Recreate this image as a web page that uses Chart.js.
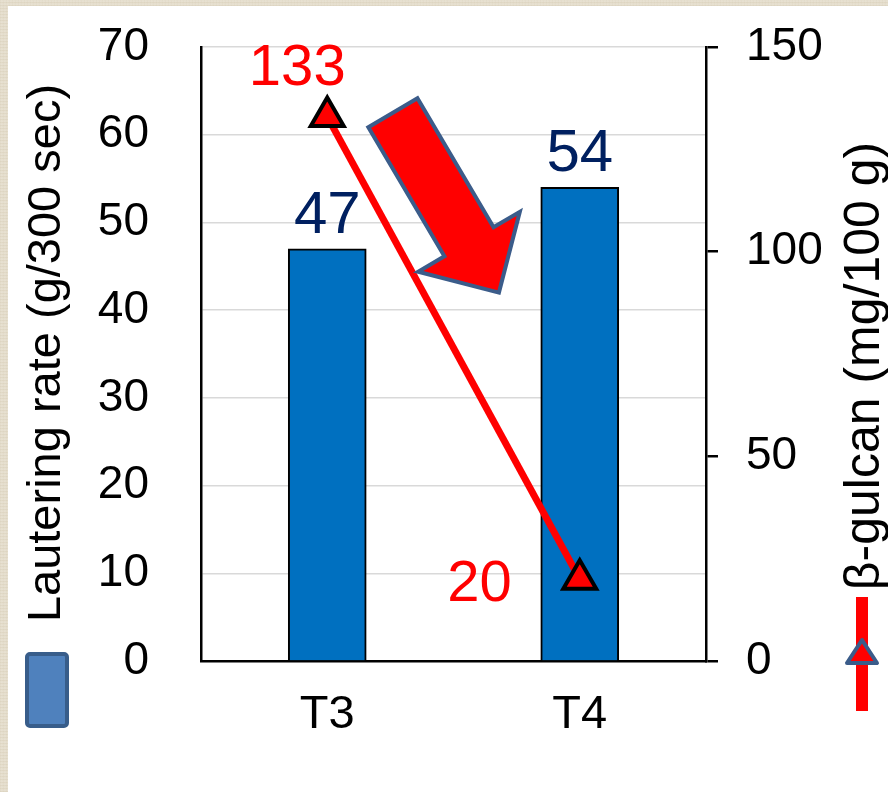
<!DOCTYPE html>
<html>
<head>
<meta charset="utf-8">
<title>Lautering rate and β-glucan</title>
<script src="https://cdn.jsdelivr.net/npm/chart.js@4/dist/chart.umd.min.js"></script>
<style>
  html, body { margin: 0; padding: 0; }
  body {
    width: 888px; height: 792px; position: relative; overflow: hidden;
    background-color: #e7e0cf;
    background-image:
      repeating-linear-gradient(90deg, rgba(170,150,110,0.18) 0px, rgba(255,255,255,0.15) 1px, rgba(190,175,140,0.12) 2px, rgba(255,255,255,0.1) 3px),
      repeating-linear-gradient(0deg, rgba(160,140,100,0.15) 0px, rgba(255,255,255,0.2) 2px, rgba(180,165,130,0.1) 3px);
  }
  #panel { position: absolute; left: 8px; top: 6px; right: 0; bottom: 0; background: #ffffff; }
  #chart { position: absolute; left: 0; top: 0; }
</style>
</head>
<body>
<div id="panel"></div>
<canvas id="chart" width="888" height="792"></canvas>
<script>
// Categories and measured values
const categories = ['T3', 'T4'];
const lauteringRate = [47, 54];     // g/300 sec, bars on the left axis
const betaGlucan = [133, 20];       // mg/100 g, line on the right axis

// Axis ranges
const leftAxisRange = [0, 70, 10];
const rightAxisRange = [0, 150, 50];

const leftTitle = 'Lautering rate (g/300 sec)';
const rightTitle = 'β-gulcan (mg/100 g)';

const FONT = "'Liberation Sans', Arial, sans-serif";
const BAR_COLOR = '#0070C0';
const BAR_LABEL_COLOR = '#002060';
const LINE_COLOR = '#FF0000';
const SLATE = '#3B5C8A';

// Value labels above the bars and beside the line markers
const valueLabels = {
  id: 'valueLabels',
  afterDatasetsDraw(chart) {
    const ctx = chart.ctx;
    ctx.save();
    ctx.font = '60px ' + FONT;
    ctx.fillStyle = BAR_LABEL_COLOR;
    ctx.textAlign = 'center';
    ctx.textBaseline = 'alphabetic';
    chart.getDatasetMeta(1).data.forEach((bar, i) => {
      ctx.fillText(String(lauteringRate[i]), bar.x, bar.y - 16);
    });
    ctx.font = '58px ' + FONT;
    ctx.fillStyle = LINE_COLOR;
    const pts = chart.getDatasetMeta(0).data;
    // first point: label above-left, second point: label to the left
    ctx.textAlign = 'center';
    ctx.fillText(String(betaGlucan[0]), pts[0].x - 30, pts[0].y - 32);
    ctx.textAlign = 'right';
    ctx.fillText(String(betaGlucan[1]), pts[1].x - 68, pts[1].y + 22);
    ctx.restore();
  }
};

// Block arrow pointing along the downward trend, placed in data space
const trendArrow = {
  id: 'trendArrow',
  afterDatasetsDraw(chart) {
    const xs = chart.scales.x, ys = chart.scales.y;
    const tail = { x: xs.getPixelForValue(0.26), y: ys.getPixelForValue(62.5) };
    const tip = { x: xs.getPixelForValue(0.68), y: ys.getPixelForValue(42) };
    const dx = tip.x - tail.x, dy = tip.y - tail.y;
    const len = Math.hypot(dx, dy);
    const ux = dx / len, uy = dy / len;
    const px = -uy, py = ux;
    const shaftHalf = 28.5, headHalf = 59, headLen = 59;
    const bx = tip.x - ux * headLen, by = tip.y - uy * headLen;
    const pts = [
      [tail.x + px * shaftHalf, tail.y + py * shaftHalf],
      [bx + px * shaftHalf, by + py * shaftHalf],
      [bx + px * headHalf, by + py * headHalf],
      [tip.x, tip.y],
      [bx - px * headHalf, by - py * headHalf],
      [bx - px * shaftHalf, by - py * shaftHalf],
      [tail.x - px * shaftHalf, tail.y - py * shaftHalf]
    ];
    const ctx = chart.ctx;
    ctx.save();
    ctx.beginPath();
    pts.forEach((p, i) => (i ? ctx.lineTo(p[0], p[1]) : ctx.moveTo(p[0], p[1])));
    ctx.closePath();
    ctx.fillStyle = LINE_COLOR;
    ctx.fill();
    ctx.lineWidth = 4;
    ctx.lineJoin = 'miter';
    ctx.strokeStyle = SLATE;
    ctx.stroke();
    ctx.restore();
  }
};

// Rotated axis titles with their series keys below them
const axisTitles = {
  id: 'axisTitles',
  afterDraw(chart) {
    const ctx = chart.ctx;
    const area = chart.chartArea;
    const midY = (area.top + area.bottom) / 2;
    ctx.save();
    ctx.fillStyle = '#000000';
    ctx.textAlign = 'center';
    ctx.textBaseline = 'alphabetic';

    ctx.save();
    ctx.font = '47px ' + FONT;
    ctx.translate(60, midY - 1);
    ctx.rotate(-Math.PI / 2);
    ctx.fillText(leftTitle, 0, 0);
    ctx.restore();

    ctx.save();
    ctx.font = '50px ' + FONT;
    ctx.translate(879, midY + 12);
    ctx.rotate(-Math.PI / 2);
    ctx.fillText(rightTitle, 0, 0);
    ctx.restore();

    // bar key
    ctx.fillStyle = '#4F81BD';
    ctx.strokeStyle = '#385D8A';
    ctx.lineWidth = 4;
    ctx.beginPath();
    ctx.roundRect(27, 654, 40, 72, 3);
    ctx.fill();
    ctx.stroke();

    // line key
    ctx.strokeStyle = LINE_COLOR;
    ctx.lineWidth = 12;
    ctx.lineCap = 'butt';
    ctx.beginPath();
    ctx.moveTo(862, 597);
    ctx.lineTo(862, 711);
    ctx.stroke();
    ctx.beginPath();
    ctx.moveTo(862, 640);
    ctx.lineTo(877, 663);
    ctx.lineTo(847, 663);
    ctx.closePath();
    ctx.fillStyle = LINE_COLOR;
    ctx.fill();
    ctx.strokeStyle = SLATE;
    ctx.lineWidth = 4;
    ctx.lineJoin = 'round';
    ctx.stroke();
    ctx.restore();
  }
};

// Fixed axis widths; the tick labels may overhang the plot's top and bottom edges
function fixVertical(width) {
  return (s) => {
    s.width = width;
    s.paddingTop = 0;
    s.paddingBottom = 0;
  };
}

new Chart(document.getElementById('chart'), {
  data: {
    labels: categories,
    datasets: [
      {
        type: 'line',
        label: rightTitle,
        data: betaGlucan,
        yAxisID: 'y1',
        order: 0,
        borderColor: LINE_COLOR,
        borderWidth: 7,
        pointStyle: 'triangle',
        pointRadius: 19,
        pointBackgroundColor: LINE_COLOR,
        pointBorderColor: '#000000',
        pointBorderWidth: 4,
        tension: 0
      },
      {
        type: 'bar',
        label: leftTitle,
        data: lauteringRate,
        yAxisID: 'y',
        order: 1,
        backgroundColor: BAR_COLOR,
        borderColor: '#000000',
        borderWidth: 2,
        barThickness: 78
      }
    ]
  },
  options: {
    responsive: false,
    animation: false,
    devicePixelRatio: 1,
    layout: { padding: { top: 47, left: 0, right: 0, bottom: 0 } },
    plugins: { legend: { display: false }, tooltip: { enabled: false } },
    scales: {
      x: {
        type: 'category',
        afterFit(s) { s.height = 131; },
        grid: { display: true, drawOnChartArea: false, drawTicks: false },
        border: { display: true, color: '#000000', width: 2.5 },
        ticks: { color: '#000000', font: { family: FONT, size: 47 }, padding: 26, maxRotation: 0 }
      },
      y: {
        position: 'left',
        min: leftAxisRange[0], max: leftAxisRange[1],
        afterFit: fixVertical(201),
        grid: {
          drawTicks: false,
          color: (c) => (c.tick && c.tick.value === 0 ? 'rgba(0,0,0,0)' : '#D9D9D9'),
          lineWidth: 1.5
        },
        border: { display: true, color: '#000000', width: 2.5 },
        ticks: { stepSize: leftAxisRange[2], color: '#000000', font: { family: FONT, size: 46 }, padding: 52 }
      },
      y1: {
        position: 'right',
        min: rightAxisRange[0], max: rightAxisRange[1],
        afterFit: fixVertical(182),
        grid: { drawOnChartArea: false, drawTicks: true, tickLength: 12, color: '#000000', lineWidth: 2.5 },
        border: { display: true, color: '#000000', width: 2.5 },
        ticks: { stepSize: rightAxisRange[2], color: '#000000', font: { family: FONT, size: 46 }, padding: 28 }
      }
    }
  },
  plugins: [valueLabels, trendArrow, axisTitles]
});
</script>
</body>
</html>
